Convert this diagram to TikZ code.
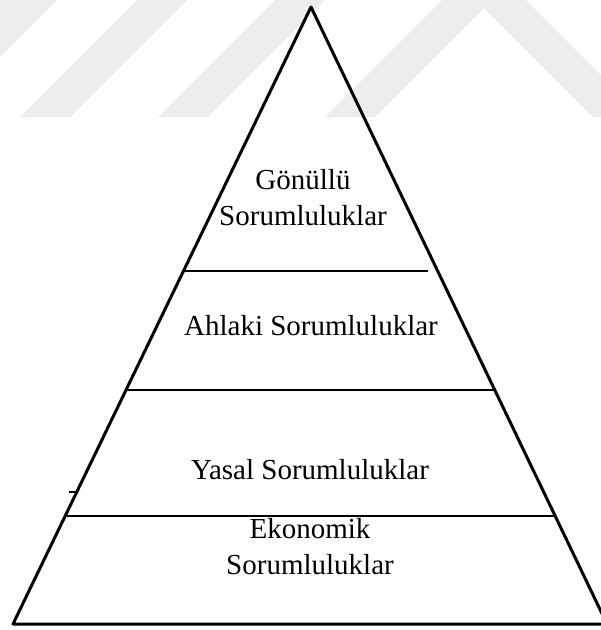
\documentclass[tikz,border=0pt]{standalone}
\usepackage{fontspec}
\setmainfont{Liberation Serif}
\usetikzlibrary{calc, positioning}

\begin{document}
\begin{tikzpicture}[
    x=1pt, y=-1pt,
    level/.style={font=\fontsize{29}{36}\selectfont, align=center, inner sep=0pt},
    side/.style={line width=3pt, line join=round},
    divider/.style={line width=1.6pt},
    wmark/.style={fill=black!7}
]
    \useasboundingbox (0,0) rectangle (601,630);
    \clip (0,0) rectangle (601,630);
    \fill[white] (0,0) rectangle (601,630);

    % Watermark
    \fill[wmark] (0,0) -- (57,0) -- (0,57) -- cycle;
    \fill[wmark] (20,117) -- (137,0) -- (187,0) -- (70,117) -- cycle;
    \fill[wmark] (158,117) -- (275,0) -- (325,0) -- (208,117) -- cycle;
    \fill[wmark] (325,117) -- (442,0) -- (526,0) -- (643,117) -- (593,117)
      -- (484,8) -- (375,117) -- cycle;

    % Pyramid
    \coordinate (apex) at (311,7);
    \coordinate (left) at (13,624);
    \coordinate (right) at (607,624);
    \draw[side] (left) -- (apex) -- (right) -- cycle;

    % Dividers
    \coordinate (cut) at (428,271);
    \draw[divider] ($(apex)!0.4279!(left)$) -- (cut);
    \draw[divider] ($(apex)!0.6207!(left)$) -- ($(apex)!0.6207!(right)$);
    \draw[divider] ($(apex)!0.8250!(left)$) -- ($(apex)!0.8250!(right)$);
    \draw[divider] ($(apex)!0.7860!(left)$) -- ++(-8,0);

    % Nodes
    \node[level] (vol) at (303,198) {Gönüllü\\Sorumluluklar};
    \node[level, anchor=base] (eth) at (311,335) {Ahlaki Sorumluluklar};
    \node[level, anchor=base] (leg) at (310,479) {Yasal Sorumluluklar};
    \node[level] (eco) at (310,547) {Ekonomik\\Sorumluluklar};
\end{tikzpicture}
\end{document}
